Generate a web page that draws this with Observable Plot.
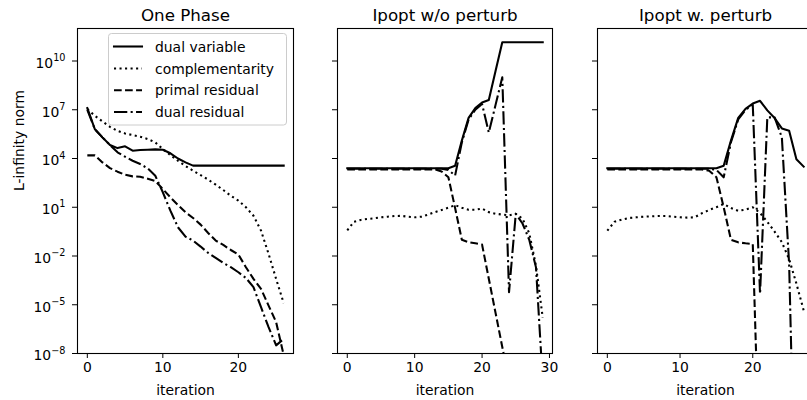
<!DOCTYPE html>
<html><head><meta charset="utf-8">
<script src="https://cdn.jsdelivr.net/npm/d3@7"></script>
<script src="https://cdn.jsdelivr.net/npm/@observablehq/plot@0.6"></script>
<style>
html,body{margin:0;padding:0;background:#fff;overflow:hidden;width:807px;height:400px}
#wrap{position:relative;width:807px;height:400px;overflow:hidden;font-family:"DejaVu Sans",sans-serif;background:#fff}
.panel{position:absolute;top:0}
</style></head><body><div id="wrap"></div>
<script>
// ---- data (log10 of the L-infinity norm, one value per iteration) ----
const panelTitles = ["One Phase", "Ipopt w/o perturb", "Ipopt w. perturb"];
const seriesNames = ["dual variable", "complementarity", "primal residual", "dual residual"];
const yTicks = [1e-8, 1e-5, 1e-2, 1e1, 1e4, 1e7, 1e10];
const xTicksOnePhase = [0, 10, 20];
const xTicksNoPerturb = [0, 10, 20, 30];
const xTicksPerturb = [0, 10, 20];

const onePhaseDualVariable = [7.1, 5.8, 5.3, 4.83, 4.64, 4.75, 4.48, 4.52, 4.54, 4.56, 4.54, 4.32, 4.0, 3.76, 3.56, 3.56, 3.56, 3.56, 3.56, 3.56, 3.56, 3.56, 3.56, 3.56, 3.56, 3.56, 3.56];
const onePhaseComplementarity = [7.04, 6.63, 6.28, 5.95, 5.7, 5.54, 5.44, 5.34, 5.2, 4.99, 4.58, 4.21, 3.86, 3.54, 3.25, 2.98, 2.7, 2.39, 2.06, 1.71, 1.41, 1.0, 0.48, -0.44, -1.87, -3.41, -4.9];
const onePhasePrimalResidual = [4.19, 4.19, 3.76, 3.41, 3.19, 3.0, 2.9, 2.88, 2.76, 2.61, 2.12, 1.61, 1.14, 0.69, 0.34, -0.07, -0.58, -1.05, -1.32, -1.63, -1.91, -2.69, -3.41, -4.02, -5.05, -6.07, -8.1];
const onePhaseDualResidual = [7.0, 5.8, 5.3, 4.83, 4.38, 4.11, 3.86, 3.66, 3.39, 2.94, 1.92, 0.79, -0.23, -0.81, -1.05, -1.42, -1.81, -2.12, -2.43, -2.69, -3.0, -3.35, -3.92, -5.15, -6.38, -7.5, -7.1];

const noPerturbDualVariable = [3.4, 3.4, 3.4, 3.4, 3.4, 3.4, 3.4, 3.4, 3.4, 3.4, 3.4, 3.4, 3.4, 3.4, 3.4, 3.4, 3.55, 5.1, 6.5, 7.1, 7.45, 7.6, 9.38, 11.15, 11.15, 11.15, 11.15, 11.15, 11.15, 11.15];
const noPerturbComplementarity = [-0.42, 0.11, 0.22, 0.28, 0.32, 0.38, 0.42, 0.46, 0.47, 0.42, 0.38, 0.42, 0.55, 0.7, 0.83, 0.97, 1.13, 0.97, 0.85, 0.85, 0.92, 0.7, 0.6, 0.55, 0.5, 0.6, 0.3, -0.6, -2.6, -5.8];
const noPerturbPrimalResidual = [3.33, 3.33, 3.33, 3.33, 3.33, 3.33, 3.33, 3.33, 3.33, 3.33, 3.33, 3.33, 3.33, 3.33, 3.2, 2.85, 0.95, -1.0, -1.15, -1.22, -1.3, -3.4, -5.5, -7.6, -9.7];
const noPerturbDualResidual = [3.37, 3.37, 3.37, 3.37, 3.37, 3.37, 3.37, 3.37, 3.37, 3.37, 3.37, 3.37, 3.37, 3.37, 3.37, 3.3, 2.95, 5.0, 6.4, 7.0, 7.35, 5.6, 7.3, 9.0, -4.23, 0.6, 0.0, -1.0, -2.7, -9.7];

const perturbDualVariable = [3.4, 3.4, 3.4, 3.4, 3.4, 3.4, 3.4, 3.4, 3.4, 3.4, 3.4, 3.4, 3.4, 3.4, 3.4, 3.4, 3.55, 5.1, 6.5, 7.05, 7.38, 7.55, 6.96, 6.49, 5.85, 5.71, 3.95, 3.5];
const perturbComplementarity = [-0.44, 0.11, 0.24, 0.34, 0.38, 0.42, 0.44, 0.46, 0.46, 0.42, 0.38, 0.36, 0.38, 0.63, 0.83, 1.0, 1.2, 0.95, 0.78, 0.85, 1.0, 0.65, 0.1, -0.5, -1.15, -2.2, -3.7, -5.35];
const perturbPrimalResidual = [3.33, 3.33, 3.33, 3.33, 3.33, 3.33, 3.33, 3.33, 3.33, 3.33, 3.33, 3.33, 3.33, 3.33, 3.25, 2.85, 1.0, -1.0, -1.16, -1.22, -1.26, -16];
const perturbDualResidual = [3.37, 3.37, 3.37, 3.37, 3.37, 3.37, 3.37, 3.37, 3.37, 3.37, 3.37, 3.37, 3.37, 3.37, 3.37, 3.3, 2.84, 5.0, 6.4, 7.0, 7.3, -4.33, 6.53, 6.53, 5.3, -2.5, -21];

// ---- styling ----
const FONT = '"DejaVu Sans", sans-serif';
const LW = 2.08;
const lineStyles = [
  {dash: null, cap: "square"},
  {dash: "2.08,3.44", cap: "butt"},
  {dash: "7.7,3.33", cap: "butt"},
  {dash: "13.3,3.33,2.08,3.33", cap: "butt"}
];

const panels = [
  {title: panelTitles[0], series: [onePhaseDualVariable, onePhaseComplementarity, onePhasePrimalResidual, onePhaseDualResidual],
   left: 0, width: 300, marginLeft: 77, marginRight: 7, xDomain: [-1.3, 27.3], xTicks: xTicksOnePhase, yLabels: true},
  {title: panelTitles[1], series: [noPerturbDualVariable, noPerturbComplementarity, noPerturbPrimalResidual, noPerturbDualResidual],
   left: 300, width: 260, marginLeft: 37, marginRight: 8, xDomain: [-1.45, 30.45], xTicks: xTicksNoPerturb, yLabels: false},
  {title: panelTitles[2], series: [perturbDualVariable, perturbComplementarity, perturbPrimalResidual, perturbDualResidual],
   left: 560, width: 260, marginLeft: 37, marginRight: 7, xDomain: [-1.35, 28.35], xTicks: xTicksPerturb, yLabels: false}
];

const fmtY = d => {
  const e = Math.round(Math.log10(d));
  return "10^" + (e < 0 ? "\u2212" + (-e) : String(e));
};

const wrap = document.getElementById("wrap");
const NS = "http://www.w3.org/2000/svg";

panels.forEach((p) => {
  const lineMarks = p.series.map((vals, k) => {
    const rows = vals.map((e, i) => ({iteration: i, value: Math.pow(10, e)}));
    const st = lineStyles[k];
    return Plot.line(rows, {
      x: "iteration", y: "value", stroke: "black", strokeWidth: LW,
      strokeDasharray: st.dash || undefined, strokeLinecap: st.cap, strokeLinejoin: "round",
      clip: true
    });
  });
  const marks = [
    ...lineMarks,
    Plot.frame({stroke: "black", strokeWidth: 1.1}),
    Plot.text([p.title], {text: d => d, frameAnchor: "top", dy: -8, lineAnchor: "bottom", fontSize: 16.7, fill: "black"}),
    Plot.text(["iteration"], {text: d => d, frameAnchor: "bottom", dy: 41, lineAnchor: "bottom", fontSize: 13.9, fill: "black"})
  ];
  if (p.yLabels) {
    marks.push(Plot.text(["L-infinity norm"], {text: d => d, frameAnchor: "left", dx: -54, rotate: -90, lineAnchor: "bottom", fontSize: 13.9, fill: "black"}));
  }
  const svg = Plot.plot({
    width: p.width, height: 400,
    marginTop: 28, marginBottom: 47, marginLeft: p.marginLeft, marginRight: p.marginRight,
    style: {fontFamily: FONT, fontSize: "13.9px", color: "black", background: "transparent", overflow: "visible"},
    x: {domain: p.xDomain, ticks: p.xTicks, tickSize: 5, tickPadding: 4, tickFormat: d => String(d), label: null},
    y: {type: "log", domain: [1e-8, 1e12], ticks: yTicks, tickSize: 5, tickPadding: 7,
        tickFormat: p.yLabels ? fmtY : () => "", label: null},
    marks
  });
  // superscript exponents on the log tick labels
  svg.querySelectorAll("text").forEach(t => {
    const m = /^10\^(.+)$/.exec(t.textContent);
    if (!m) return;
    t.textContent = "";
    const base = document.createElementNS(NS, "tspan");
    base.setAttribute("dy", "2.3");
    base.textContent = "10";
    const sup = document.createElementNS(NS, "tspan");
    sup.setAttribute("dy", "-6.7");
    sup.setAttribute("font-size", "9.7");
    sup.textContent = m[1];
    t.append(base, sup);
  });
  const div = document.createElement("div");
  div.className = "panel";
  div.style.left = p.left + "px";
  div.style.width = p.width + "px";
  div.appendChild(svg);
  wrap.appendChild(div);
});

// ---- legend (inside the first panel, upper right) ----
const legend = d3.select(wrap).append("svg")
  .attr("width", 300).attr("height", 400)
  .style("position", "absolute").style("left", "0px").style("top", "0px")
  .style("font-family", FONT);
legend.append("rect")
  .attr("x", 108.5).attr("y", 33.5).attr("width", 178).attr("height", 91.5).attr("rx", 3)
  .attr("fill", "white").attr("fill-opacity", 0.8).attr("stroke", "#cccccc").attr("stroke-width", 1);
const rowY = [46.5, 68.5, 90.3, 112];
seriesNames.forEach((name, k) => {
  const st = lineStyles[k];
  legend.append("line")
    .attr("x1", 114).attr("x2", 142).attr("y1", rowY[k]).attr("y2", rowY[k])
    .attr("stroke", "black").attr("stroke-width", LW)
    .attr("stroke-dasharray", st.dash).attr("stroke-linecap", st.cap);
  legend.append("text")
    .attr("x", 155).attr("y", rowY[k] + 5).attr("font-size", 13.9).attr("fill", "black")
    .text(name);
});
</script></body></html>
